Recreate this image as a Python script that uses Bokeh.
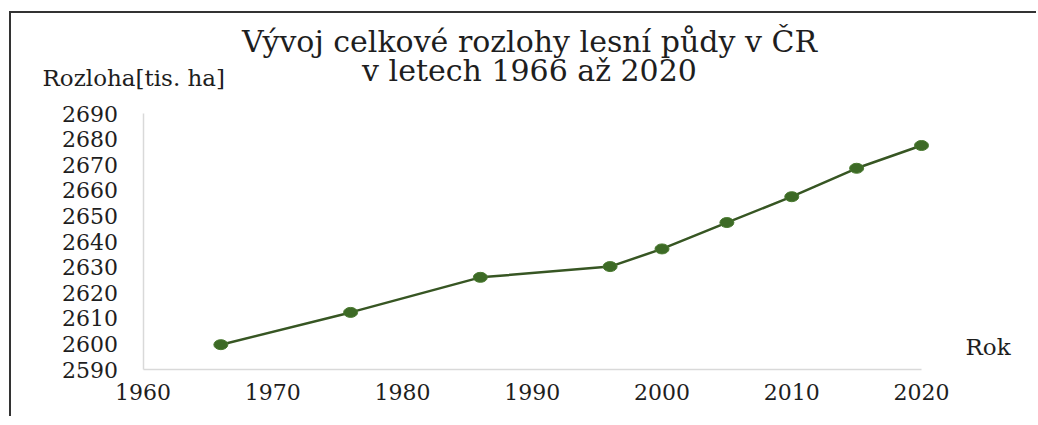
from bokeh.plotting import figure
from bokeh.models import FixedTicker, Range1d, ColumnDataSource
from bokeh.core.properties import value
from bokeh.embed import file_html
from bokeh.resources import INLINE

years = [1966, 1976, 1986, 1996, 2000, 2005, 2010, 2015, 2020]
area = [2599.7, 2612.3, 2626.0, 2630.2, 2637.1, 2647.4, 2657.5, 2668.6, 2677.5]
x_ticks = [1960, 1970, 1980, 1990, 2000, 2010, 2020]
y_ticks = [2590, 2600, 2610, 2620, 2630, 2640, 2650, 2660, 2670, 2680, 2690]
title_lines = ["Vývoj celkové rozlohy lesní půdy v ČR", "v letech 1966 až 2020"]
y_title = "Rozloha[tis. ha]"
x_title = "Rok"

FONT = "DejaVu Serif"
TXT = "#1e1e1e"
GREEN = "#375623"

# layout (page pixels)
CX0, CY0 = 11, 13          # canvas origin on the page
W, H = 1027, 405
AX_L, AX_R = 142.5, 921.0  # x of first / last x tick
AX_T, AX_B = 113.0, 369.0  # y of last / first y tick

xs = (x_ticks[-1] - x_ticks[0]) / (AX_R - AX_L)
x0 = x_ticks[0] - (AX_L - CX0) * xs
x1 = x0 + W * xs
ys = (y_ticks[-1] - y_ticks[0]) / (AX_B - AX_T)
y1 = y_ticks[-1] + (AX_T - CY0) * ys
y0 = y1 - H * ys


def px_x(px):
    return x0 + (px - CX0) * xs


def px_y(py):
    return y1 - (py - CY0) * ys


src = ColumnDataSource(data=dict(x=years, y=area))

p = figure(width=W, height=H, output_backend="svg", toolbar_location=None,
           x_range=Range1d(x0, x1), y_range=Range1d(y0, y1),
           min_border=0, min_border_left=0, min_border_right=0,
           min_border_top=0, min_border_bottom=0)
p.styles = {"border-top": "2px solid #333333", "border-left": "2px solid #333333",
            "margin-top": "11px", "margin-left": "9px"}
p.outline_line_color = None
p.background_fill_color = "white"
p.border_fill_color = "white"
p.xgrid.visible = False
p.ygrid.visible = False

for ax in (p.xaxis[0], p.yaxis[0]):
    ax.axis_line_color = "#d9d9d9"
    ax.axis_line_width = 1.5
    ax.major_tick_line_color = None
    ax.minor_tick_line_color = None
    ax.major_tick_out = 0
    ax.major_tick_in = 0
    ax.major_label_text_font = FONT
    ax.major_label_text_font_size = "22px"
    ax.major_label_text_color = TXT
p.xaxis.ticker = FixedTicker(ticks=x_ticks)
p.yaxis.ticker = FixedTicker(ticks=y_ticks)
p.xaxis.fixed_location = y_ticks[0]
p.yaxis.fixed_location = x_ticks[0]
p.xaxis.bounds = (x_ticks[0], x_ticks[-1])
p.yaxis.bounds = (y_ticks[0], y_ticks[-1])
p.xaxis.major_label_standoff = 14
p.yaxis.major_label_standoff = 25

p.line("x", "y", source=src, line_color=GREEN, line_width=2.5)
p.ellipse("x", "y", source=src, width=14, height=10, width_units="screen", height_units="screen",
          fill_color="#3d6a26", line_color="#4a7a30", line_width=1)

p.text(x=[px_x(529)], y=[px_y(41)], text=[title_lines[0]], text_font=value(FONT),
       text_font_size="30px", text_color=TXT, text_align="center", text_baseline="alphabetic")
p.text(x=[px_x(529)], y=[px_y(70)], text=[title_lines[1]], text_font=value(FONT),
       text_font_size="30px", text_color=TXT, text_align="center", text_baseline="alphabetic")
p.text(x=[px_x(42)], y=[px_y(77)], text=[y_title], text_font=value(FONT),
       text_font_size="23px", text_color=TXT, text_align="left", text_baseline="alphabetic")
p.text(x=[px_x(965)], y=[px_y(346)], text=[x_title], text_font=value(FONT),
       text_font_size="23px", text_color=TXT, text_align="left", text_baseline="alphabetic")

open("out.html", "w").write(file_html(p, INLINE))
